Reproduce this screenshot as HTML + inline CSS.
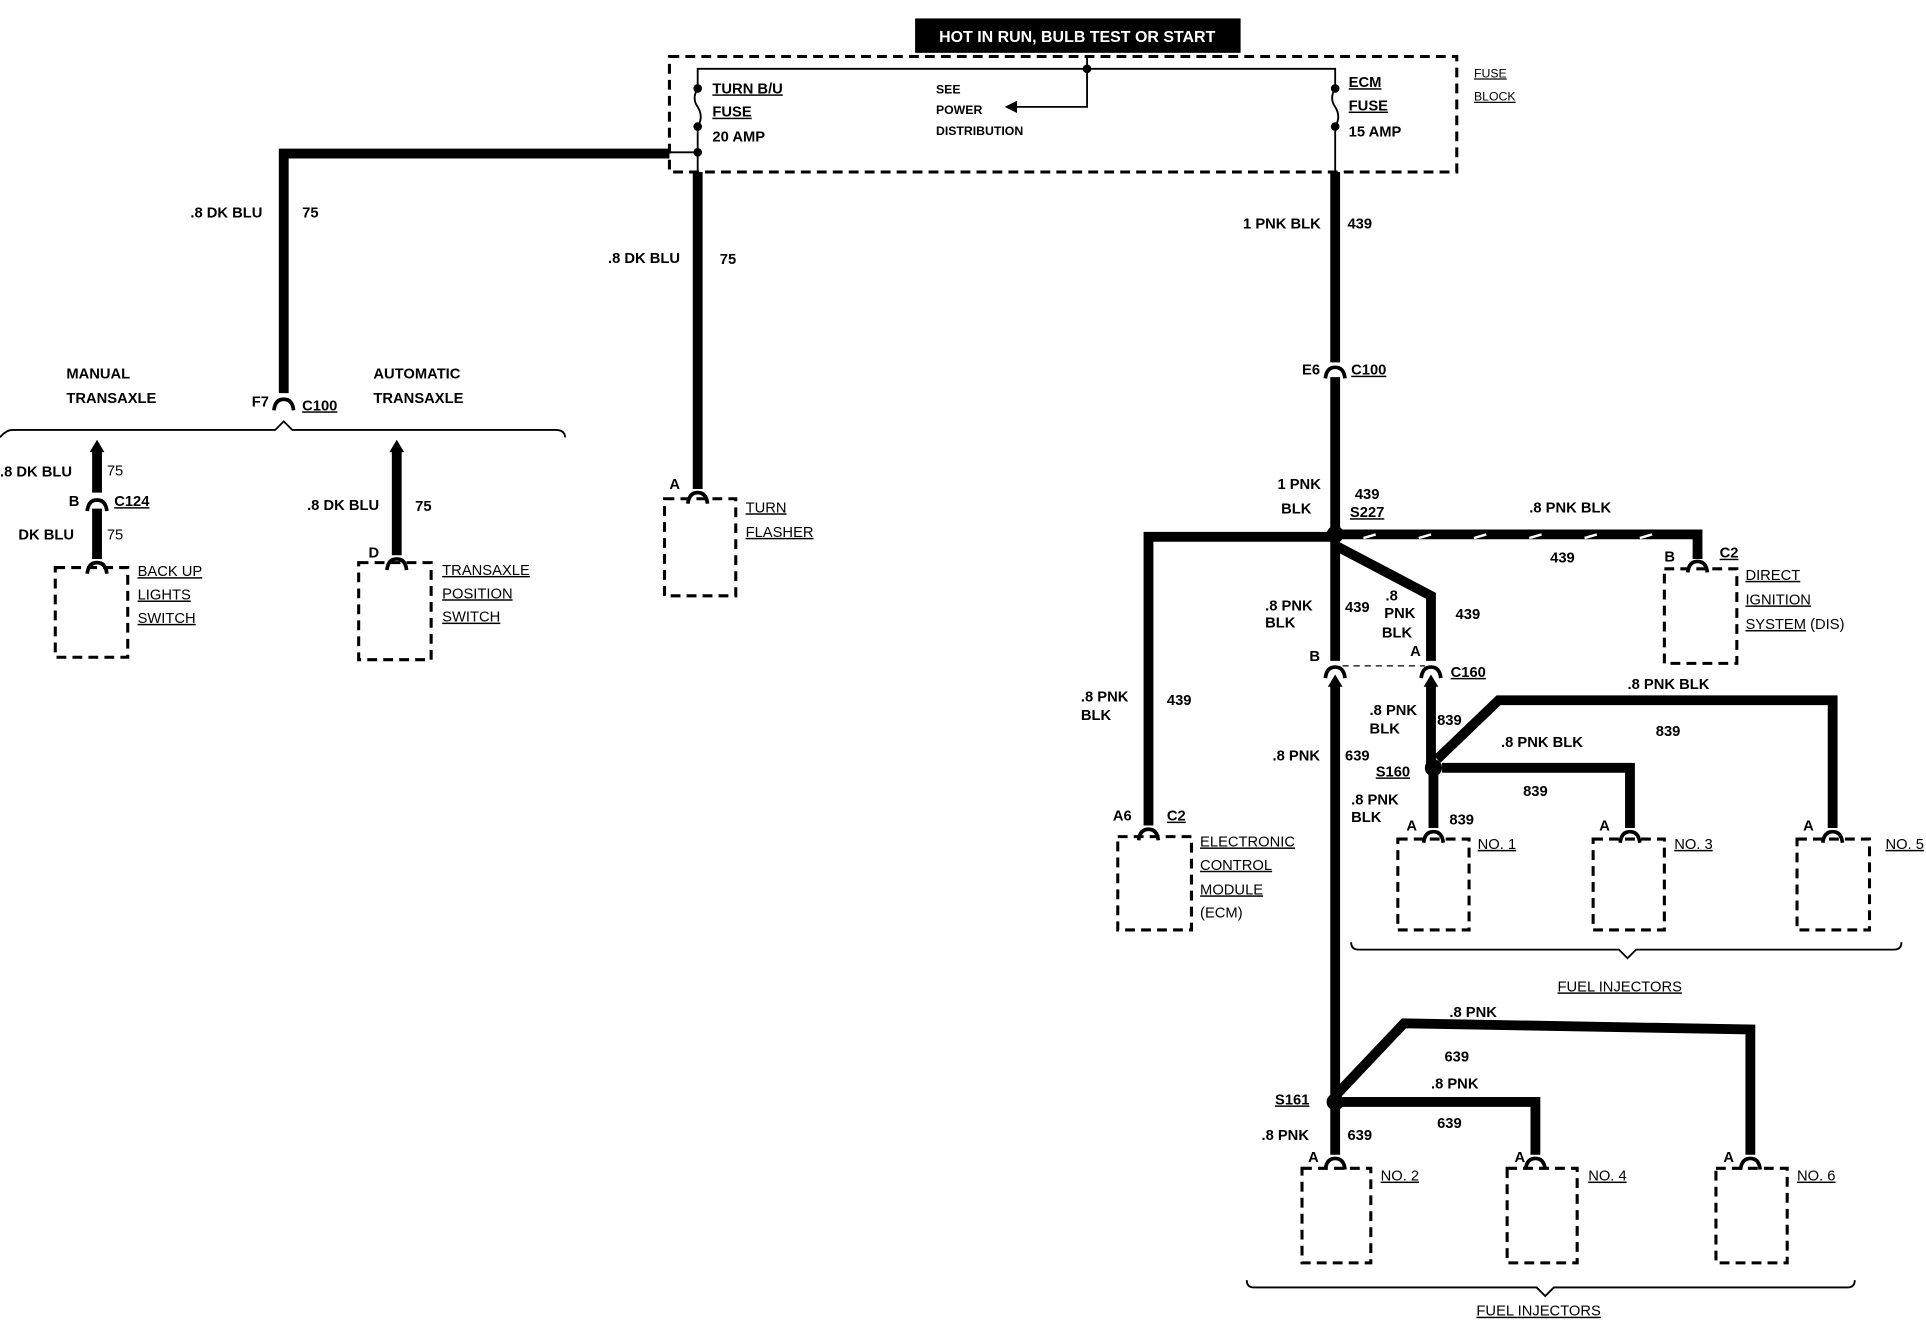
<!DOCTYPE html>
<html><head><meta charset="utf-8"><style>
html,body{margin:0;padding:0;background:#fff;}
svg{display:block}
text{font-family:"Liberation Sans",sans-serif;font-weight:bold;font-size:12px;fill:#000}
.u{text-decoration:underline}
.w{stroke:#000;stroke-width:8;fill:none;stroke-linejoin:miter}
.t{stroke:#000;stroke-width:1.5;fill:none}
.d{stroke:#000;stroke-width:2.5;fill:none;stroke-dasharray:8 5}
.c{stroke:#000;stroke-width:3;fill:none}
</style></head><body>
<svg width="1926" height="1328" viewBox="0 0 1568 1081" preserveAspectRatio="none" xmlns="http://www.w3.org/2000/svg">
<defs>
<g id="con"><path class="c" d="M-8 6 Q-7 -3 0 -3 Q7 -3 8 6"/></g>
<g id="arr"><path d="M-6 6 L0 -4 L6 6 Z" fill="#000"/></g>
</defs>
<!-- top -->
<rect x="745" y="15" width="265" height="28" fill="#000"/>
<text x="877" y="34" text-anchor="middle" style="fill:#fff;font-size:13px">HOT IN RUN, BULB TEST OR START</text>
<rect x="545" y="46" width="641" height="94" class="d"/>
<path class="t" d="M568 72 V56 H1087 V72"/>
<path class="t" d="M885 46 V87 H825"/>
<path d="M818 87 L828 82 L828 92Z"/>
<circle cx="885" cy="56" r="3.5"/>
<path class="t" d="M568 72 q-5 8 0 15 q5 8 0 16 M568 103 V140 M568 124 H545"/>
<circle cx="568" cy="72" r="3.5"/><circle cx="568" cy="103" r="3.5"/><circle cx="568" cy="124" r="3.5"/>
<path class="t" d="M1087 72 q-5 8 0 15 q5 8 0 16 M1087 103 V140"/>
<circle cx="1087" cy="72" r="3.5"/><circle cx="1087" cy="103" r="3.5"/>
<text x="580" y="76" class="u">TURN B/U</text><text x="580" y="95" class="u">FUSE</text><text x="580" y="115">20 AMP</text>
<text x="762" y="76" style="font-size:10px">SEE</text><text x="762" y="93" style="font-size:10px">POWER</text><text x="762" y="110" style="font-size:10px">DISTRIBUTION</text>
<text x="1098" y="71" class="u">ECM</text><text x="1098" y="90" class="u">FUSE</text><text x="1098" y="111">15 AMP</text>
<text x="1200" y="63" class="u" style="font-size:10px;font-weight:normal">FUSE</text><text x="1200" y="82" class="u" style="font-size:10px;font-weight:normal">BLOCK</text>
<!-- left wire -->
<path class="w" d="M545 125 H231 V320"/>
<use href="#con" x="231" y="328"/>
<text x="155" y="177">.8 DK BLU</text><text x="246" y="177">75</text>
<text x="205" y="331">F7</text><text x="246" y="334" class="u">C100</text>
<path class="t" d="M0 356 Q5 350 10 350 H224 L231 343 L238 350 H452 Q460 350 460 356"/>
<text x="54" y="308">MANUAL</text><text x="54" y="328">TRANSAXLE</text>
<text x="304" y="308">AUTOMATIC</text><text x="304" y="328">TRANSAXLE</text>
<path class="w" d="M79 366 V401 M79 414 V455"/><use href="#arr" x="79" y="362"/><use href="#con" x="79" y="410"/>
<text x="0" y="388">.8 DK BLU</text><text x="87" y="387" style="font-weight:normal">75</text>
<text x="56" y="412">B</text><text x="93" y="412" class="u">C124</text>
<text x="15" y="439">DK BLU</text><text x="87" y="439" style="font-weight:normal">75</text>
<use href="#con" x="79" y="461"/>
<rect x="45" y="462" width="59" height="73" class="d"/>
<text x="112" y="469" class="u" style="font-weight:normal">BACK UP</text><text x="112" y="488" class="u" style="font-weight:normal">LIGHTS</text><text x="112" y="507" class="u" style="font-weight:normal">SWITCH</text>
<path class="w" d="M323 366 V452"/><use href="#arr" x="323" y="362"/><use href="#con" x="323" y="458"/>
<text x="250" y="415">.8 DK BLU</text><text x="338" y="416">75</text><text x="300" y="454">D</text>
<rect x="292" y="458" width="59" height="79" class="d"/>
<text x="360" y="468" class="u" style="font-weight:normal">TRANSAXLE</text><text x="360" y="487" class="u" style="font-weight:normal">POSITION</text><text x="360" y="506" class="u" style="font-weight:normal">SWITCH</text>
<!-- turn flasher -->
<path class="w" d="M568 140 V398"/><use href="#con" x="568" y="404"/>
<text x="495" y="214">.8 DK BLU</text><text x="586" y="215">75</text><text x="545" y="398">A</text>
<rect x="541" y="406" width="58" height="79" class="d"/>
<text x="607" y="417" class="u" style="font-weight:normal">TURN</text><text x="607" y="437" class="u" style="font-weight:normal">FLASHER</text>
<!-- right main -->
<path class="w" d="M1087 140 V295 M1087 307 V538"/><use href="#con" x="1087" y="302"/>
<text x="1012" y="186">1 PNK BLK</text><text x="1097" y="186">439</text>
<text x="1060" y="305">E6</text><text x="1100" y="305" class="u">C100</text>
<circle cx="1087" cy="435" r="7"/>
<text x="1040" y="398">1 PNK</text><text x="1043" y="418">BLK</text><text x="1103" y="406">439</text><text x="1099" y="421" class="u">S227</text>
<path class="w" d="M1087 437 H935 V672"/><use href="#con" x="935" y="678"/>
<text x="880" y="571">.8 PNK</text><text x="880" y="586">BLK</text><text x="950" y="574">439</text>
<text x="906" y="668">A6</text><text x="950" y="668" class="u">C2</text>
<rect x="910" y="681" width="60" height="76" class="d"/>
<text x="977" y="689" class="u" style="font-weight:normal">ELECTRONIC</text><text x="977" y="708" class="u" style="font-weight:normal">CONTROL</text><text x="977" y="728" class="u" style="font-weight:normal">MODULE</text><text x="977" y="747" style="font-weight:normal">(ECM)</text>
<path class="w" d="M1087 435 H1382 V455"/>
<path stroke="#fff" stroke-width="2" d="M1110 438 l10 -3 M1155 438 l10 -3 M1200 438 l10 -3 M1245 438 l10 -3 M1290 438 l10 -3 M1335 438 l10 -3"/>
<use href="#con" x="1382" y="460"/>
<text x="1245" y="417">.8 PNK BLK</text><text x="1262" y="458">439</text><text x="1355" y="457">B</text><text x="1400" y="454" class="u">C2</text>
<rect x="1355" y="463" width="59" height="77" class="d"/>
<text x="1421" y="472" class="u" style="font-weight:normal">DIRECT</text><text x="1421" y="492" class="u" style="font-weight:normal">IGNITION</text><text x="1421" y="512" style="font-weight:normal"><tspan class="u">SYSTEM</tspan> (DIS)</text>
<path class="w" d="M1089 445 L1165 485 V538"/><use href="#con" x="1165" y="546"/><use href="#con" x="1087" y="546"/>
<path stroke="#000" stroke-width="1" stroke-dasharray="5 4" d="M1093 542 H1160"/>
<text x="1128" y="489">.8</text><text x="1127" y="503">PNK</text><text x="1125" y="519">BLK</text><text x="1185" y="504">439</text>
<text x="1148" y="534">A</text><text x="1181" y="551" class="u">C160</text><text x="1066" y="538">B</text>
<text x="1030" y="497">.8 PNK</text><text x="1030" y="511">BLK</text><text x="1095" y="498">439</text>
<path class="w" d="M1087 556 V895"/><use href="#arr" x="1087" y="553"/>
<text x="1036" y="619">.8 PNK</text><text x="1095" y="619">639</text>
<!-- S160 -->
<path class="w" d="M1165 556 V625"/><use href="#arr" x="1165" y="553"/>
<circle cx="1167" cy="625" r="7"/>
<text x="1115" y="582">.8 PNK</text><text x="1115" y="597">BLK</text><text x="1170" y="590">839</text>
<text x="1120" y="632" class="u">S160</text>
<path class="w" d="M1170 618 L1220 570 H1492 V674"/><use href="#con" x="1492" y="680"/>
<text x="1325" y="561">.8 PNK BLK</text><text x="1348" y="599">839</text>
<path class="w" d="M1174 625 H1327 V674"/><use href="#con" x="1327" y="680"/>
<text x="1222" y="608">.8 PNK BLK</text><text x="1240" y="648">839</text>
<path class="w" d="M1167 630 V674"/><use href="#con" x="1167" y="680"/>
<text x="1100" y="655">.8 PNK</text><text x="1100" y="669">BLK</text><text x="1180" y="671">839</text>
<text x="1145" y="676">A</text><text x="1302" y="676">A</text><text x="1468" y="676">A</text>
<rect x="1138" y="683" width="58" height="74" class="d"/><rect x="1297" y="683" width="58" height="74" class="d"/><rect x="1463" y="683" width="59" height="74" class="d"/>
<text x="1203" y="691" class="u" style="font-weight:normal">NO. 1</text><text x="1363" y="691" class="u" style="font-weight:normal">NO. 3</text><text x="1535" y="691" class="u" style="font-weight:normal">NO. 5</text>
<path class="t" d="M1100 767 Q1100 773 1106 773 H1318 L1325 780 L1332 773 H1542 Q1548 773 1548 767"/>
<text x="1268" y="807" class="u" style="font-weight:normal">FUEL INJECTORS</text>
<!-- S161 -->
<circle cx="1087" cy="897" r="7"/>
<path class="w" d="M1089 890 L1143 833 L1425 838 V940"/><use href="#con" x="1425" y="946"/>
<text x="1180" y="828">.8 PNK</text><text x="1176" y="864">639</text>
<path class="w" d="M1087 897 H1250 V940"/><use href="#con" x="1250" y="946"/>
<text x="1165" y="886">.8 PNK</text><text x="1170" y="918">639</text>
<path class="w" d="M1087 897 V940"/><use href="#con" x="1087" y="946"/>
<text x="1038" y="899" class="u">S161</text><text x="1027" y="928">.8 PNK</text><text x="1097" y="928">639</text>
<text x="1065" y="946">A</text><text x="1233" y="946">A</text><text x="1403" y="946">A</text>
<rect x="1060" y="951" width="56" height="77" class="d"/><rect x="1227" y="951" width="57" height="77" class="d"/><rect x="1397" y="951" width="58" height="77" class="d"/>
<text x="1124" y="961" class="u" style="font-weight:normal">NO. 2</text><text x="1293" y="961" class="u" style="font-weight:normal">NO. 4</text><text x="1463" y="961" class="u" style="font-weight:normal">NO. 6</text>
<path class="t" d="M1015 1042 Q1015 1048 1021 1048 H1251 L1258 1055 L1265 1048 H1504 Q1510 1048 1510 1042"/>
<text x="1202" y="1071" class="u" style="font-weight:normal">FUEL INJECTORS</text>
</svg>
</body></html>
